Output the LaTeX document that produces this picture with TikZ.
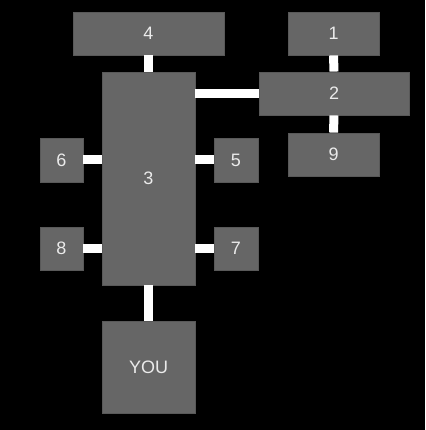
\documentclass[tikz,border=0pt]{standalone}
\usepackage{fontspec}
\setmainfont{Liberation Sans}
\begin{document}
\begin{tikzpicture}[x=1pt,y=-1pt,
  box/.style={draw=black!50!white!70!black, line width=0.8pt, fill=black!60!white, text=white!92!black,
    inner sep=0pt, font=\fontsize{18}{20}\selectfont},
  conn/.style={draw=white, line width=9pt}]
\fill[black] (0,0) rectangle (425,430);
\useasboundingbox (0,0) rectangle (425,430);
\node[box, minimum width=151pt, minimum height=43pt] (b4) at (148.5,33.5) {4};
\node[box, minimum width=91pt, minimum height=43pt] (b1) at (333.5,33.5) {1};
\node[box, minimum width=150pt, minimum height=43pt] (b2) at (334,93.5) {2};
\node[box, minimum width=91pt, minimum height=43pt] (b9) at (333.5,154.5) {9};
\node[box, minimum width=93pt, minimum height=213pt] (b3) at (148.5,178.5) {3};
\node[box, minimum width=43pt, minimum height=44pt] (b6) at (61.5,160) {6};
\node[box, minimum width=44pt, minimum height=44pt] (b5) at (236,160) {5};
\node[box, minimum width=43pt, minimum height=43pt] (b8) at (61.5,248.5) {8};
\node[box, minimum width=44pt, minimum height=43pt] (b7) at (236,248.5) {7};
\node[box, minimum width=93pt, minimum height=92pt] (bY) at (148.5,367) {YOU};
\draw[conn] (b4.south) -- (b3.north);
\draw[conn] (b1.south) -- (b2.north);
\draw[conn] (b2.south) -- (b9.north);
\draw[conn] (b2.west) -- (b2.west -| b3.east);
\draw[conn] (b6.east) -- (b6.east -| b3.west);
\draw[conn] (b8.east) -- (b8.east -| b3.west);
\draw[conn] (b5.west) -- (b5.west -| b3.east);
\draw[conn] (b7.west) -- (b7.west -| b3.east);
\draw[conn] (b3.south) -- (bY.north);
\end{tikzpicture}
\end{document}
